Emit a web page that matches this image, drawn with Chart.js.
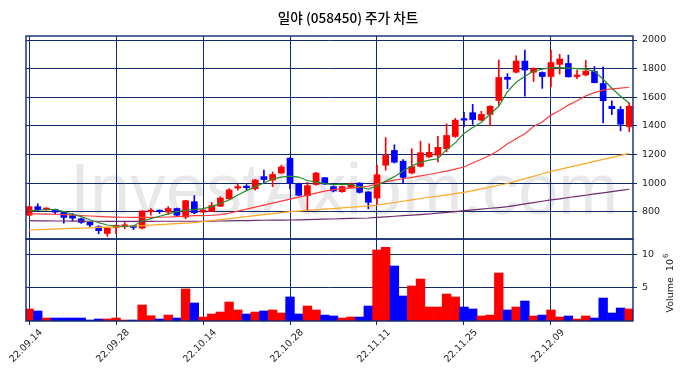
<!DOCTYPE html>
<html>
<head>
<meta charset="utf-8">
<script src="https://cdn.jsdelivr.net/npm/chart.js@4.4.1/dist/chart.umd.min.js"></script>
<style>
  html, body { margin: 0; background: #fff; }
  #wrap { width: 686px; height: 378px; }
</style>
</head>
<body>
<div id="wrap"><canvas id="grafico"></canvas></div>
<script>
// 일야 (058450) 일봉 + 거래량, 값은 그림에서 눈으로 읽은 추정치
const tickDatas = ["22.09.14", "22.09.28", "22.10.14", "22.10.28", "22.11.11", "22.11.25", "22.12.09"];
const tickPos = [0, 10, 20, 30, 40, 50, 60];

const abre = [775, 835, 815, 815, 795, 772, 750, 726, 695, 648, 690, 698, 700, 685, 800, 805, 797, 822, 762, 870,
  797, 803, 838, 890, 965, 975, 960, 1045, 1020, 1070, 1174, 993, 912, 990, 1038, 975, 940, 970, 1000, 938,
  895, 1125, 1228, 1153, 1070, 1117, 1183, 1195, 1240, 1326, 1445, 1492, 1440, 1480, 1578, 1740, 1775, 1853, 1775, 1773,
  1745, 1830, 1836, 1745, 1756, 1780, 1696, 1537, 1515, 1395];
const alta = [840, 856, 828, 818, 798, 788, 756, 728, 702, 690, 708, 725, 702, 807, 822, 812, 836, 825, 880, 912,
  815, 865, 905, 962, 995, 990, 1025, 1090, 1078, 1125, 1180, 1000, 1005, 1075, 1040, 980, 980, 1000, 1003, 940,
  1125, 1318, 1268, 1165, 1240, 1293, 1275, 1326, 1415, 1452, 1495, 1550, 1502, 1540, 1860, 1765, 1890, 1930, 1806, 1778,
  1930, 1900, 1895, 1790, 1858, 1815, 1813, 1575, 1535, 1560];
const baixa = [772, 800, 810, 784, 720, 737, 718, 695, 645, 627, 645, 680, 675, 680, 775, 788, 780, 770, 750, 785,
  795, 800, 835, 885, 950, 950, 950, 995, 975, 1068, 960, 912, 808, 985, 990, 938, 935, 968, 930, 820,
  855, 1090, 1140, 1000, 1065, 1112, 1178, 1148, 1218, 1320, 1395, 1410, 1435, 1400, 1545, 1660, 1770, 1607, 1710, 1662,
  1673, 1762, 1740, 1730, 1750, 1700, 1420, 1478, 1365, 1360];
const fecha = [835, 814, 822, 797, 760, 755, 725, 707, 667, 686, 705, 703, 690, 805, 808, 800, 822, 775, 877, 792,
  812, 842, 896, 952, 975, 968, 1022, 1025, 1060, 1112, 1000, 915, 982, 1070, 993, 945, 975, 995, 935, 866,
  1058, 1193, 1146, 1040, 1115, 1212, 1215, 1250, 1333, 1440, 1440, 1444, 1480, 1537, 1738, 1725, 1853, 1790, 1800, 1745,
  1843, 1867, 1743, 1755, 1782, 1702, 1576, 1520, 1412, 1537];
// volume em milhões
const volume = [1.82, 1.52, 0.45, 0.45, 0.45, 0.45, 0.45, 0.15, 0.3, 0.3, 0.45, 0.15, 0.15, 2.42, 0.8, 0.3, 0.9, 0.45, 4.85, 2.73,
  0.6, 1.06, 1.36, 2.88, 1.67, 1.06, 1.36, 1.52, 1.67, 1.21, 3.64, 1.06, 2.27, 1.67, 0.9, 0.76, 0.45, 0.6, 0.6, 2.27,
  10.76, 11.16, 8.33, 3.79, 5.3, 6.36, 2.12, 2.12, 4.09, 3.64, 2.12, 1.82, 0.76, 0.9, 7.27, 1.67, 2.12, 3.03, 0.76, 0.9,
  1.67, 0.6, 0.76, 0.3, 0.76, 0.45, 3.48, 1.21, 1.97, 1.82];

const ma5 = [807, 810, 814, 814, 800, 782, 765, 744, 723, 707, 700, 697, 700, 735, 752, 768, 785, 800, 810, 815,
  822, 835, 858, 882, 916, 947, 975, 1000, 1028, 1042, 1048, 1042, 1018, 1007, 996, 989, 993, 990, 975, 957,
  982, 1015, 1045, 1085, 1120, 1145, 1160, 1170, 1235, 1281, 1347, 1389, 1425, 1481, 1537, 1639, 1705, 1747, 1782, 1796,
  1807, 1807, 1804, 1800, 1796, 1782, 1726, 1663, 1607, 1558];
const ma20 = [785, 784, 783, 782, 780, 777, 773, 770, 767, 764, 762, 761, 760, 760, 760, 761, 763, 765, 768, 772,
  773, 775, 779, 789, 804, 818, 832, 846, 860, 874, 888, 902, 916, 930, 944, 954, 959, 965, 970, 978,
  995, 1008, 1020, 1030, 1040, 1050, 1060, 1072, 1084, 1097, 1112, 1140, 1166, 1195, 1230, 1275, 1310, 1345, 1395, 1427,
  1475, 1508, 1545, 1575, 1610, 1632, 1650, 1658, 1664, 1670];
const ma60 = [672, 674, 676, 678, 681, 683, 685, 687, 690, 692, 694, 697, 700, 703, 706, 710, 713, 716, 720, 723,
  730, 737, 744, 751, 759, 766, 773, 780, 787, 794, 800, 804, 809, 813, 818, 822, 827, 831, 836, 840,
  845, 854, 864, 873, 883, 892, 901, 909, 918, 926, 935, 947, 960, 972, 985, 997, 1014, 1031, 1048, 1065,
  1082, 1096, 1110, 1124, 1138, 1152, 1166, 1180, 1194, 1208];
const ma120 = [737, 736, 736, 735, 735, 734, 734, 733, 733, 732, 732, 732, 732, 732, 732, 733, 733, 733, 733, 733,
  733, 734, 735, 736, 737, 738, 739, 740, 741, 741, 742, 743, 745, 746, 748, 749, 751, 753, 754, 756,
  760, 764, 768, 772, 776, 780, 784, 790, 795, 801, 807, 812, 818, 824, 829, 835, 844, 854, 863, 873,
  882, 890, 899, 907, 915, 924, 932, 940, 949, 957];

const precoTicks = [800, 1000, 1200, 1400, 1600, 1800, 2000];
const volTicks = [5, 10];

const AZUL_ESC = "#0f2a6e";
const SOBE = "#ff0000", DESCE = "#0000ff";
const idx = abre.map((_, i) => i);
const cores = idx.map((i) => (fecha[i] >= abre[i] ? SOBE : DESCE));

Chart.defaults.font.family = "'DejaVu Sans', sans-serif";
Chart.defaults.color = "#222";

const grade = { color: AZUL_ESC, lineWidth: 1, borderDash: [4, 3], tickBorderDash: [], tickColor: AZUL_ESC,
  tickLength: 4, tickWidth: 1, offset: false };
const fonteTick = { size: 9.5 };

const linha = (dados, cor) => ({
  type: "line", data: idx.map((i) => ({ x: i, y: dados[i] })), yAxisID: "y",
  borderColor: cor, borderWidth: 1.2, pointRadius: 0, tension: 0, order: 0,
});

// marca d'água + molduras + rótulo do volume
const extras = {
  id: "extras",
  beforeDraw(chart) {
    const { ctx } = chart;
    ctx.save();
    ctx.fillStyle = "rgba(200,200,205,0.42)";
    ctx.font = "72px 'Liberation Sans'";
    ctx.textBaseline = "alphabetic";
    ctx.fillText("InvestAxiom.com", 70, 214);
    ctx.restore();
  },
  afterDraw(chart) {
    const { ctx, chartArea: a, scales } = chart;
    ctx.save();
    ctx.strokeStyle = AZUL_ESC;
    ctx.lineWidth = 1.4;
    ctx.strokeRect(a.left, scales.y.top, a.right - a.left, scales.y.bottom - scales.y.top);
    ctx.strokeRect(a.left, scales.yv.top, a.right - a.left, scales.yv.bottom - scales.yv.top);
    ctx.translate(673, 312.5);
    ctx.rotate(-Math.PI / 2);
    ctx.fillStyle = "#222";
    ctx.font = "9.5px 'DejaVu Sans'";
    ctx.textAlign = "left";
    ctx.fillText("Volume  10", 0, 0);
    const w = ctx.measureText("Volume  10").width;
    ctx.font = "7px 'DejaVu Sans'";
    ctx.fillText("6", w + 1, -5);
    ctx.restore();
  },
};

new Chart(document.getElementById("grafico"), {
  type: "bar",
  data: {
    datasets: [
      linha(ma5, "#2a8a2a"),
      linha(ma20, "#ff3b3b"),
      linha(ma60, "#ffa726"),
      linha(ma120, "#6e2c6e"),
      { data: idx.map((i) => ({ x: i, y: [abre[i], fecha[i]] })), yAxisID: "y", backgroundColor: cores,
        barThickness: 6, minBarLength: 1.5, grouped: false, order: 1 },
      { data: idx.map((i) => ({ x: i, y: [baixa[i], alta[i]] })), yAxisID: "y", backgroundColor: cores,
        barThickness: 1, grouped: false, order: 2 },
      { data: idx.map((i) => ({ x: i, y: volume[i] })), yAxisID: "yv", backgroundColor: cores,
        barPercentage: 1, categoryPercentage: 1, grouped: false, order: 3 },
    ],
  },
  options: {
    responsive: true, maintainAspectRatio: false, animation: false,
    layout: { padding: { left: 10, right: 0, top: 0, bottom: 0 } },
    plugins: {
      legend: { display: false }, tooltip: { enabled: false },
      title: { display: true, text: "일야 (058450) 주가 차트", color: "#000",
        font: { family: "'Noto Sans CJK KR'", size: 13.6, weight: "500" }, padding: { top: 10, bottom: 9.7 } },
    },
    scales: {
      x: {
        type: "linear", min: -0.35, max: 69.43, offset: false,
        afterBuildTicks: (s) => { s.ticks = tickPos.map((v) => ({ value: v })); },
        afterFit: (s) => { s.height = 57; s.paddingLeft = 26; s.paddingRight = 0; },
        ticks: { callback: (v) => tickDatas[tickPos.indexOf(v)] ?? "", minRotation: 45, maxRotation: 45,
          autoSkip: false, font: fonteTick, labelOffset: 12, padding: 2 },
        grid: grade, border: { display: false },
      },
      y: {
        position: "right", stack: "v", stackWeight: 203, min: 609, max: 2028,
        afterBuildTicks: (s) => { s.ticks = precoTicks.map((v) => ({ value: v })); },
        afterFit: (s) => { s.width = 53; },
        ticks: { font: fonteTick, padding: 5, callback: (v) => String(v) },
        grid: grade, border: { display: false },
      },
      yv: {
        position: "right", stack: "v", stackWeight: 82, min: 0, max: 12.42,
        afterBuildTicks: (s) => { s.ticks = volTicks.map((v) => ({ value: v })); },
        afterFit: (s) => { s.width = 53; },
        ticks: { font: fonteTick, padding: 5, callback: (v) => String(v) },
        grid: grade, border: { display: false },
      },
    },
  },
  plugins: [extras],
});
</script>
</body>
</html>
